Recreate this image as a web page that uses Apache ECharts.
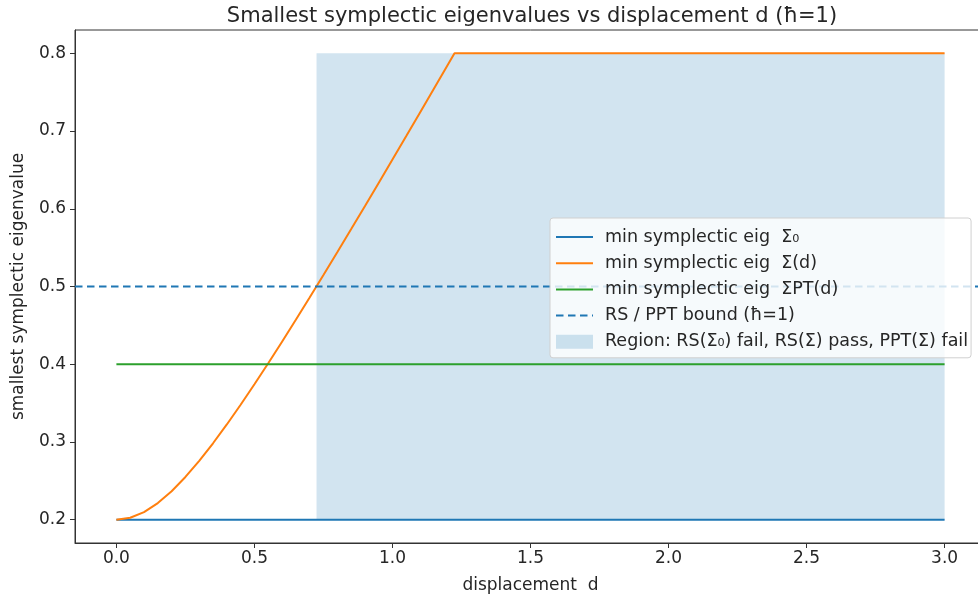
<!DOCTYPE html>
<html>
<head>
<meta charset="utf-8">
<script src="https://cdn.jsdelivr.net/npm/echarts@6/dist/echarts.min.js"></script>
<style>html,body{margin:0;padding:0;background:#fff;overflow:hidden;width:978px;height:605px}#c{width:1000px;height:605px}</style>
</head>
<body>
<div id="c"></div>
<script>
// ---- data ----
const dOrange = [0, 0.05, 0.1, 0.15, 0.2, 0.25, 0.3, 0.35, 0.4, 0.45, 0.5, 0.55, 0.6, 0.65, 0.7, 0.75, 0.8, 0.85, 0.9, 0.95, 1.0, 1.05, 1.1, 1.15, 1.2, 1.2247, 1.5, 2.0, 2.5, 3.0];
const vOrange = [0.2, 0.2025, 0.2098, 0.2214, 0.2366, 0.2550, 0.2757, 0.2983, 0.3225, 0.3479, 0.3742, 0.4012, 0.4290, 0.4572, 0.4858, 0.5148, 0.5441, 0.5736, 0.6033, 0.6332, 0.6633, 0.6935, 0.7239, 0.7543, 0.7849, 0.8, 0.8, 0.8, 0.8, 0.8];
const dFlat = [0, 3.0];
const vSigma0 = [0.2, 0.2];
const vPT = [0.4, 0.4];
const dBound = [-0.15, 3.15];
const vBound = [0.5, 0.5];
const regionX = [0.725, 3.0];
const regionY = [0.2, 0.8];
const xTicks = [0, 0.5, 1.0, 1.5, 2.0, 2.5, 3.0];
const yTicks = [0.2, 0.3, 0.4, 0.5, 0.6, 0.7, 0.8];
const names = ['min symplectic eig  Σ₀', 'min symplectic eig  Σ(d)', 'min symplectic eig  ΣPT(d)', 'RS / PPT bound (ħ=1)', 'Region: RS(Σ₀) fail, RS(Σ) pass, PPT(Σ) fail'];

const pairs = (xs, ys) => xs.map((x, i) => [x, ys[i]]);
const FONT = 'DejaVu Sans';
const TXT = '#262626';

const chart = echarts.init(document.getElementById('c'), null, {renderer: 'canvas'});
chart.setOption({
  animation: false,
  backgroundColor: '#fff',
  title: {
    text: 'Smallest symplectic eigenvalues vs displacement d (ħ=1)',
    left: 527, top: 1, textAlign: 'center',
    textStyle: {fontFamily: FONT, fontSize: 21, fontWeight: 'normal', color: TXT}
  },
  grid: {left: 75, top: 30, width: 911, height: 513, show: true, borderColor: '#333', borderWidth: 1, containLabel: false},
  xAxis: {
    type: 'value', min: -0.15, max: 3.15,
    name: 'displacement  d', nameLocation: 'middle', nameGap: 34,
    nameTextStyle: {fontFamily: FONT, fontSize: 17, color: TXT},
    axisLine: {show: true, onZero: false, lineStyle: {color: '#333', width: 1}},
    axisTick: {show: true, customValues: xTicks, length: 5, lineStyle: {color: '#333'}},
    axisLabel: {customValues: xTicks, formatter: v => v.toFixed(1), fontFamily: FONT, fontSize: 17, color: TXT, margin: 7},
    splitLine: {show: false}
  },
  yAxis: {
    type: 'value', min: 0.17, max: 0.83,
    name: 'smallest symplectic eigenvalue', nameLocation: 'middle', nameGap: 48, nameRotate: 90,
    nameTextStyle: {fontFamily: FONT, fontSize: 17, color: TXT},
    axisLine: {show: true, onZero: false, lineStyle: {color: '#333', width: 1}},
    axisTick: {show: true, customValues: yTicks, length: 5, lineStyle: {color: '#333'}},
    axisLabel: {customValues: yTicks, formatter: v => v.toFixed(1), fontFamily: FONT, fontSize: 17, color: TXT, margin: 9},
    splitLine: {show: false}
  },
  legend: {
    orient: 'vertical', left: 550, top: 218,
    data: [
      {name: names[0]}, {name: names[1]}, {name: names[2]}, {name: names[3]},
      {name: names[4], icon: 'rect', itemStyle: {opacity: 1}}
    ],
    itemWidth: 37, itemHeight: 14, itemGap: 8.2,
    itemStyle: {opacity: 0},
    padding: [10, 3, 7, 5],
    backgroundColor: 'rgba(255,255,255,0.8)', borderColor: '#d0d0d0', borderWidth: 1, borderRadius: 3,
    textStyle: {fontFamily: FONT, fontSize: 17.5, color: TXT, padding: [0, 0, 0, 7]}
  },
  series: [
    {
      name: names[4], type: 'line', data: [], symbol: 'none',
      itemStyle: {color: 'rgba(31,119,180,0.2)'}, lineStyle: {color: 'rgba(31,119,180,0.2)'},
      z: 1,
      markArea: {
        silent: true,
        itemStyle: {color: 'rgba(31,119,180,0.2)'},
        data: [[{coord: [regionX[0], regionY[0]]}, {coord: [regionX[1], regionY[1]]}]]
      }
    },
    {name: names[0], type: 'line', data: pairs(dFlat, vSigma0), symbol: 'none', z: 3,
     itemStyle: {color: '#1f77b4'}, lineStyle: {color: '#1f77b4', width: 2}},
    {name: names[1], type: 'line', data: pairs(dOrange, vOrange), symbol: 'none', z: 3,
     itemStyle: {color: '#ff7f0e'}, lineStyle: {color: '#ff7f0e', width: 2}},
    {name: names[2], type: 'line', data: pairs(dFlat, vPT), symbol: 'none', z: 3,
     itemStyle: {color: '#2ca02c'}, lineStyle: {color: '#2ca02c', width: 2}},
    {name: names[3], type: 'line', data: pairs(dBound, vBound), symbol: 'none', z: 3,
     itemStyle: {color: '#1f77b4'}, lineStyle: {color: '#1f77b4', width: 2, type: [7.5, 4.5]}}
  ]
});
</script>
</body>
</html>
